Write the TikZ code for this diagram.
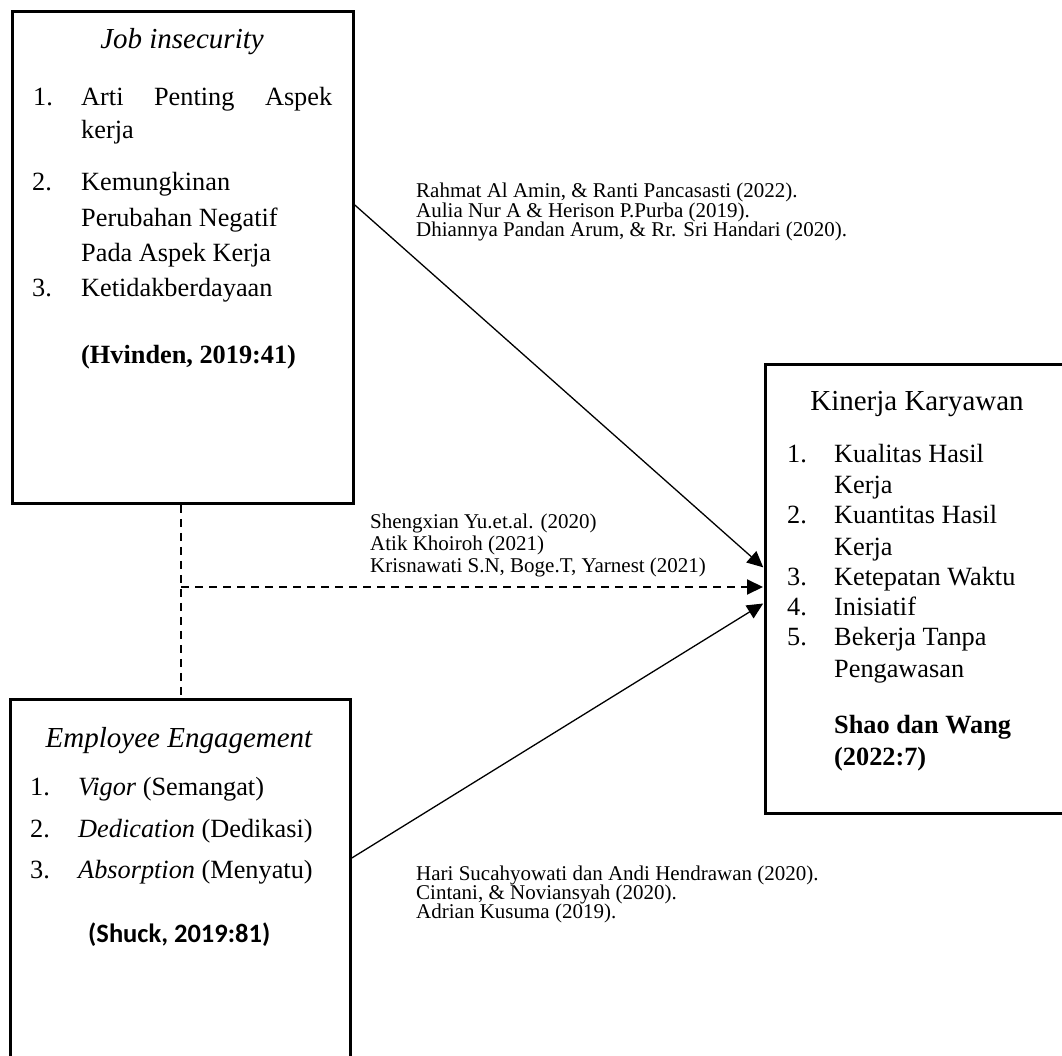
\documentclass[tikz,border=0pt]{standalone}
\usepackage{fontspec}
\setmainfont{Liberation Serif}
\newfontfamily\calibrifont{Carlito}
\usetikzlibrary{arrows.meta}
\tikzset{
  box/.style={draw, line width=2.8pt, anchor=north west, inner sep=0pt},
  body/.style={anchor=base west, inner sep=0pt, font=\fontsize{26.3}{30}\selectfont},
  ttl/.style={anchor=base, inner sep=0pt, font=\fontsize{29}{33}\selectfont},
  cite/.style={anchor=base west, inner sep=0pt, font=\fontsize{21}{24}\selectfont},
  tip/.style={-{Triangle[length=16pt,width=15pt]}, shorten >=1pt},
  conn/.style={line width=1.3pt, tip},
  dashline/.style={line width=2pt, dash pattern=on 8pt off 6pt},
}
\begin{document}
\begin{tikzpicture}[x=1pt,y=-1pt]
\useasboundingbox (0,0) rectangle (1062,1056);
% boxes
\node[box, minimum width=341pt, minimum height=492pt] (job) at (11,10) {};
\node[box, minimum width=340pt, minimum height=380pt] (emp) at (9,698) {};
\node[box, minimum width=330pt, minimum height=449pt] (kin) at (764,363) {};

% Job insecurity text
\node[ttl, font=\fontsize{29}{33}\selectfont\itshape] (jt) at (182,49) {Job insecurity};
\node[body] (j1n) at (33,106) {1.};
\node[body] (j1a) at (81,106) {\makebox[251pt][s]{Arti Penting Aspek}};
\node[body] (j1b) at (81,139) {kerja};
\node[body] (j2n) at (32,191) {2.};
\node[body] (j2a) at (81,191) {Kemungkinan};
\node[body] (j2b) at (81,227) {Perubahan Negatif};
\node[body] (j2c) at (81,262) {Pada Aspek Kerja};
\node[body] (j3n) at (32,297) {3.};
\node[body] (j3a) at (81,297) {Ketidakberdayaan};
\node[body, font=\fontsize{26.3}{30}\selectfont\bfseries] (jref) at (81,363) {(Hvinden, 2019:41)};

% Employee Engagement text
\node[ttl, font=\fontsize{29}{33}\selectfont\itshape] (et) at (179,747) {Employee Engagement};
\node[body] (e1n) at (30,795) {1.};
\node[body] (e1a) at (78,795) {\textit{Vigor} (Semangat)};
\node[body] (e2n) at (30,837) {2.};
\node[body] (e2a) at (78,837) {\textit{Dedication} (Dedikasi)};
\node[body] (e3n) at (30,878) {3.};
\node[body] (e3a) at (78,878) {\textit{Absorption} (Menyatu)};
\node[body, font=\fontsize{26.5}{30}\calibrifont\bfseries] (eref) at (88,942) {(Shuck, 2019:81)};

% Kinerja Karyawan text
\node[ttl] (kt) at (917,410) {Kinerja Karyawan};
\node[body] (k1n) at (787,462) {1.};
\node[body] (k1a) at (834,462) {Kualitas Hasil};
\node[body] (k1b) at (834,493) {Kerja};
\node[body] (k2n) at (787,523) {2.};
\node[body] (k2a) at (834,523) {Kuantitas Hasil};
\node[body] (k2b) at (834,555) {Kerja};
\node[body] (k3n) at (787,585) {3.};
\node[body] (k3a) at (834,585) {Ketepatan Waktu};
\node[body] (k4n) at (787,615) {4.};
\node[body] (k4a) at (834,615) {Inisiatif};
\node[body] (k5n) at (787,645) {5.};
\node[body] (k5a) at (834,645) {Bekerja Tanpa};
\node[body] (k5b) at (834,677) {Pengawasan};
\node[body, font=\fontsize{26.3}{30}\selectfont\bfseries] (kr1) at (834,733) {Shao dan Wang};
\node[body, font=\fontsize{26.3}{30}\selectfont\bfseries] (kr2) at (834,765) {(2022:7)};

% citations
\node[cite] (c1) at (416,198) {Rahmat Al Amin, \& Ranti Pancasasti (2022).};
\node[cite] (c2) at (416,217.5) {Aulia Nur A \& Herison P.Purba (2019).};
\node[cite] (c3) at (416,237) {Dhiannya Pandan Arum, \& Rr. Sri Handari (2020).};
\node[cite] (c4) at (370,528) {Shengxian Yu.et.al. (2020)};
\node[cite] (c5) at (370,550) {Atik Khoiroh (2021)};
\node[cite] (c6) at (370,572) {Krisnawati S.N, Boge.T, Yarnest (2021)};
\node[cite] (c7) at (416,880) {Hari Sucahyowati dan Andi Hendrawan (2020).};
\node[cite] (c8) at (416,899) {Cintani, \& Noviansyah (2020).};
\node[cite] (c9) at (416,918) {Adrian Kusuma (2019).};

% connector anchor points
\coordinate (y1) at (0,205);
\coordinate (y2) at (0,568);
\coordinate (y3) at (0,587);
\coordinate (y4) at (0,603);
\coordinate (y5) at (0,858);
\coordinate (xd) at (181,0);
\coordinate (js) at (job.east |- y1);
\coordinate (kt1) at (kin.west |- y2);
\coordinate (kt2) at (kin.west |- y3);
\coordinate (kt3) at (kin.west |- y4);
\coordinate (es) at (emp.east |- y5);
\coordinate (jb) at (job.south -| xd);
\coordinate (et2) at (emp.north -| xd);
\coordinate (dc) at (xd |- y3);

\draw[conn] (js) -- (kt1);
\draw[conn] (es) -- (kt3);
\draw[dashline] (jb) -- (et2);
\draw[dashline, tip] (dc) -- (kt2);
\end{tikzpicture}
\end{document}
